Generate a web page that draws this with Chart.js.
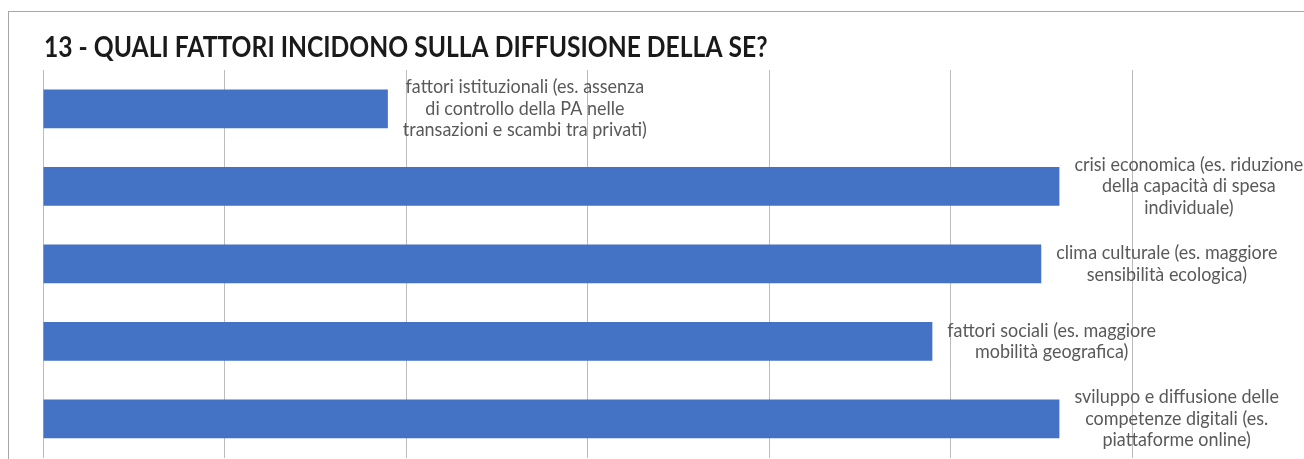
<!DOCTYPE html>
<html>
<head>
<meta charset="utf-8">
<script src="https://cdn.jsdelivr.net/npm/chart.js@4/dist/chart.umd.min.js"></script>
<style>
  html, body { margin: 0; padding: 0; background: #ffffff; overflow: hidden; width: 1304px; height: 459px; }
  #wrap { position: relative; width: 1340px; height: 459px; }
  #frame { position: absolute; left: 8px; top: 11px; width: 1400px; height: 470px;
           border-top: 1px solid #a6a6a6; border-left: 1px solid #a6a6a6; }
  canvas { position: absolute; left: 0; top: 0; }
</style>
</head>
<body>
<div id="wrap">
  <div id="frame"></div>
  <canvas id="chart" width="1340" height="459"></canvas>
</div>
<script>
// Chart title
const chartTitle = "13 - QUALI FATTORI INCIDONO SULLA DIFFUSIONE DELLA SE?";

// Categories (one entry per bar, split into the lines shown beside the bar)
const categories = [
  ["fattori istituzionali (es. assenza", "di controllo della PA nelle", "transazioni e scambi tra privati)"],
  ["crisi economica (es. riduzione", "della capacità di spesa", "individuale)"],
  ["clima culturale (es. maggiore", "sensibilità ecologica)"],
  ["fattori sociali (es. maggiore", "mobilità geografica)"],
  ["sviluppo e diffusione delle", "competenze digitali (es.", "piattaforme online)"]
];

// Responses per factor
const values = [19, 56, 55, 49, 56];

// Value axis range and gridline step
const axisMin = 0;
const axisMax = 70;
const axisStep = 10;

// Styling
const barColor = "#4472C4";
const gridColor = "#bcbcbc";
const labelColor = "#595959";
const titleColor = "#1a1a1a";
const labelFont = "19px Lato";
const titleFont = "bold 29px Lato";
const titleSqueeze = 0.85;    // horizontal squeeze of the title text
const labelSqueeze = 0.945;   // horizontal squeeze of the bar labels
const labelGap = 15;          // space between bar end and its label block
const labelLineHeight = 21.5;

// Title drawn at the top-left of the canvas
const titlePlugin = {
  id: "squeezedTitle",
  afterDraw(chart) {
    const ctx = chart.ctx;
    ctx.save();
    ctx.font = titleFont;
    ctx.fillStyle = titleColor;
    ctx.textAlign = "left";
    ctx.textBaseline = "alphabetic";
    ctx.translate(44, 57);
    ctx.scale(titleSqueeze, 1);
    ctx.fillText(chartTitle, 0, 0);
    ctx.restore();
  }
};

// Category text written to the right of each bar's end, lines centred in a block
const barLabelPlugin = {
  id: "barEndLabels",
  afterDatasetsDraw(chart) {
    const ctx = chart.ctx;
    const meta = chart.getDatasetMeta(0);
    ctx.save();
    ctx.font = labelFont;
    ctx.fillStyle = labelColor;
    ctx.textAlign = "center";
    ctx.textBaseline = "middle";
    meta.data.forEach((bar, i) => {
      const lines = chart.data.labels[i];
      const widest = Math.max(...lines.map(l => ctx.measureText(l).width)) * labelSqueeze;
      const cx = bar.x + labelGap + widest / 2;
      const n = lines.length;
      lines.forEach((line, j) => {
        const y = bar.y + (j - (n - 1) / 2) * labelLineHeight;
        ctx.save();
        ctx.translate(cx, y);
        ctx.scale(labelSqueeze, 1);
        ctx.fillText(line, 0, 0);
        ctx.restore();
      });
    });
    ctx.restore();
  }
};

function build() {
  new Chart(document.getElementById("chart"), {
    type: "bar",
    data: {
      labels: categories,
      datasets: [{
        data: values,
        backgroundColor: barColor,
        borderWidth: 0,
        barPercentage: 0.5,
        categoryPercentage: 1.0
      }]
    },
    options: {
      indexAxis: "y",
      responsive: false,
      animation: false,
      layout: { padding: { left: 43, top: 70, right: 26.5, bottom: 1.5 } },
      plugins: {
        legend: { display: false },
        title: { display: false },
        tooltip: { enabled: false }
      },
      scales: {
        x: {
          min: axisMin,
          max: axisMax,
          ticks: { display: false, stepSize: axisStep },
          grid: { color: gridColor, lineWidth: 1, drawTicks: false },
          border: { display: false },
          afterFit(scale) { scale.height = 0; }
        },
        y: {
          ticks: { display: false },
          grid: { display: false, drawTicks: false },
          border: { display: false },
          afterFit(scale) { scale.width = 0; }
        }
      }
    },
    plugins: [titlePlugin, barLabelPlugin]
  });
}

if (document.fonts && document.fonts.load) {
  Promise.all([document.fonts.load(labelFont), document.fonts.load(titleFont)])
    .then(build, build);
} else {
  build();
}
</script>
</body>
</html>
